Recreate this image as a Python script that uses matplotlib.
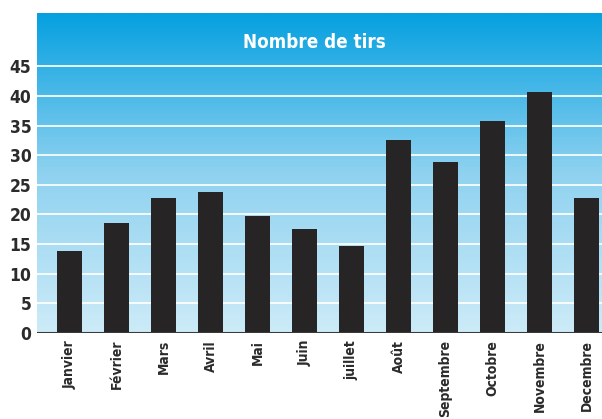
import numpy as np
import matplotlib
matplotlib.use("Agg")
import matplotlib.pyplot as plt
from matplotlib.colors import LinearSegmentedColormap

months = ["Janvier", "Février", "Mars", "Avril", "Mai", "Juin", "juillet",
          "Août", "Septembre", "Octobre", "Novembre", "Decembre"]
values = [13.8, 18.5, 22.8, 23.8, 19.7, 17.6, 14.7, 32.6, 28.8, 35.7, 40.6, 22.8]
yticks = [0, 5, 10, 15, 20, 25, 30, 35, 40, 45]
title = "Nombre de tirs"

W, H = 602, 419
plt.rcParams["font.family"] = ["DejaVu Sans"]
plt.rcParams["font.stretch"] = "condensed"

fig = plt.figure(figsize=(W / 100, H / 100), dpi=100)
fig.patch.set_facecolor("white")
left, right, top, bottom = 37, 619, 13, 333
ax = fig.add_axes([left / W, (H - bottom) / H, (right - left) / W, (bottom - top) / H])

x = np.arange(len(months))
ymax = 54
ax.set_xlim(-0.69, len(months) - 1 + 0.69)
ax.set_ylim(0, ymax)

cmap = LinearSegmentedColormap.from_list("bg", ["#cdebf8", "#8fd2f0", "#05a0e0"])
grad = np.linspace(0, 1, 256).reshape(-1, 1)
ax.imshow(grad, aspect="auto", cmap=cmap, origin="lower",
          extent=[-0.69, len(months) - 1 + 0.69, 0, ymax], zorder=0)

for yv in yticks[1:]:
    ax.axhline(yv, color="white", lw=1.3, zorder=1, alpha=0.95)

ax.bar(x, values, width=0.53, color="#262425", zorder=2)
ax.axhline(0, color="#3a3a3a", lw=2.2, zorder=3)

for s in ax.spines.values():
    s.set_visible(False)

ax.set_yticks(yticks)
ax.set_yticklabels([str(v) for v in yticks], fontsize=12.5, fontweight="bold",
                   color="#2b2b2b", fontstretch="condensed")
ax.set_xticks(x)
ax.set_xticklabels(months, rotation=90, fontsize=10, fontweight="bold",
                   color="#2b2b2b", fontstretch="condensed")
ax.tick_params(axis="both", length=0)
ax.tick_params(axis="y", pad=4)
ax.tick_params(axis="x", pad=5)

fig.text(314 / W, 1 - 43 / H, title, ha="center", va="center", color="white",
         fontsize=13.5, fontweight="bold", fontstretch="condensed")

fig.savefig("out.png", dpi=100)
